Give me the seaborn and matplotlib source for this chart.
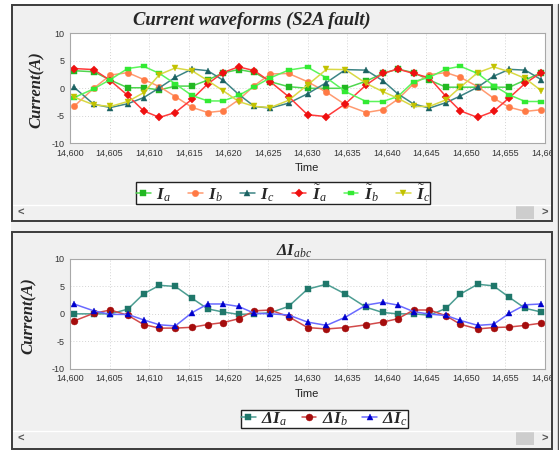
import matplotlib
matplotlib.use("Agg")
import matplotlib.pyplot as plt
from matplotlib.patches import Rectangle
from matplotlib.lines import Line2D
from matplotlib.transforms import Bbox, TransformedBbox
import seaborn as sns

# ---------------- data ----------------
time = [14600.5, 14603.0, 14605.1, 14607.3, 14609.3, 14611.3, 14613.3, 14615.4,
        14617.4, 14619.3, 14621.3, 14623.3, 14625.3, 14627.6, 14630.0, 14632.4,
        14634.8, 14637.4, 14639.5, 14641.4, 14643.4, 14645.4, 14647.5, 14649.3,
        14651.5, 14653.5, 14655.5, 14657.5, 14659.5]

Ia = [3.2, 3.0, 1.5, 0.1, 0.1, -0.3, 0.4, 0.4, 1.5, 2.8, 3.4, 2.9, 1.2, 0.3, 0.0,
      0.0, 0.0, 1.3, 2.7, 3.5, 2.85, 1.5, 0.2, 0.2, 0.2, 0.2, 0.2, 1.5, 2.85]
Ib = [-3.3, 0.0, 2.4, 2.85, 1.6, 0.3, -1.5, -3.45, -4.4, -4.1, -2.1, 0.5, 2.6, 2.7,
      1.2, -0.7, -3.0, -4.4, -3.9, -2.0, 0.8, 2.5, 2.85, 2.0, 0.3, -1.8, -3.45, -4.2, -3.9]
Ic = [0.2, -2.9, -3.5, -2.8, -1.7, 0.1, 2.0, 3.5, 3.2, 1.5, -1.1, -3.3, -3.6, -2.7,
      -1.0, 1.05, 3.4, 3.3, 1.4, -1.0, -2.85, -3.6, -2.6, -1.4, 0.2, 2.2, 3.45, 3.3, 1.6]
Ia_est = [3.6, 3.4, 1.4, -1.3, -4.1, -5.3, -4.4, -2.0, 0.8, 2.85, 3.9, 3.2, 1.2, -1.5,
          -4.8, -5.15, -2.8, 0.6, 2.7, 3.5, 2.7, 1.9, -1.5, -4.1, -5.3, -4.2, -1.7, 0.9, 2.85]
Ib_est = [-1.7, -0.1, 1.6, 3.6, 4.0, 2.7, 0.8, -1.3, -2.3, -2.3, -1.3, 0.3, 1.9, 3.3,
          3.85, 1.9, -0.6, -2.4, -2.4, -1.5, 1.2, 2.0, 3.5, 4.0, 2.7, 0.5, -1.2, -2.4, -2.4]
Ic_est = [-1.6, -3.0, -3.3, -2.4, -0.8, 2.5, 3.7, 3.2, 1.4, -0.4, -2.4, -3.3, -3.5, -2.2,
          0.6, 3.45, 3.4, 0.9, -0.6, -1.8, -3.3, -3.3, -2.1, 0.2, 2.85, 3.9, 3.0, 1.8, -0.4]

dIa = [0.0, 0.0, 0.0, 0.85, 3.65, 5.2, 5.0, 2.85, 0.9, 0.35, -0.1, 0.0, 0.2, 1.35,
       4.5, 5.4, 3.6, 1.2, 0.25, 0.0, 0.0, -0.25, 1.0, 3.6, 5.4, 5.1, 3.0, 1.0, 0.35]
dIb = [-1.3, 0.1, 0.7, -0.25, -1.95, -2.6, -2.6, -2.45, -1.95, -1.6, -0.9, 0.55, 0.7,
       -0.5, -2.5, -2.75, -2.5, -2.0, -1.5, -0.9, 0.7, 0.7, -0.35, -1.9, -2.75, -2.5, -2.4, -2.1, -1.7]
dIc = [1.8, 0.55, -0.1, -0.1, -1.1, -2.0, -2.2, 0.2, 1.8, 1.8, 1.35, 0.1, 0.0, -0.2,
       -1.5, -2.1, -0.6, 1.6, 2.1, 1.6, 0.4, -0.05, -0.3, -1.2, -2.1, -1.9, 0.1, 1.65, 1.8]

x_ticks = [14600, 14605, 14610, 14615, 14620, 14625, 14630, 14635, 14640, 14645, 14650, 14655, 14660]
x_tick_labels = ["14,600", "14,605", "14,610", "14,615", "14,620", "14,625", "14,630",
                 "14,635", "14,640", "14,645", "14,650", "14,655", "14,660"]
y_ticks = [-10, -5, 0, 5, 10]
y_tick_labels = ["-10", "-5", "0", "5", "10"]

top_title = "Current waveforms (S2A fault)"
bottom_title = r"$\mathbf{\Delta I}_{abc}$"
y_label = "Current(A)"
x_label = "Time"
top_labels = [r"$\mathbf{I}_a$", r"$\mathbf{I}_b$", r"$\mathbf{I}_c$",
              r"$\tilde{\mathbf{I}}_a$", r"$\tilde{\mathbf{I}}_b$", r"$\tilde{\mathbf{I}}_c$"]
bottom_labels = [r"$\mathbf{\Delta I}_a$", r"$\mathbf{\Delta I}_b$", r"$\mathbf{\Delta I}_c$"]

# ---------------- style ----------------
sns.set_style("white")
plt.rcParams["font.family"] = ["Liberation Sans", "DejaVu Sans"]
plt.rcParams["axes.unicode_minus"] = False
plt.rcParams["mathtext.fontset"] = "custom"
plt.rcParams["mathtext.rm"] = "Liberation Serif"
plt.rcParams["mathtext.it"] = "Liberation Serif:italic"
plt.rcParams["mathtext.bf"] = "Liberation Serif:italic:bold"

W, H = 559, 450
fig = plt.figure(figsize=(W / 100, H / 100), dpi=100, facecolor="white")


def fx(px):
    return px / W


def fy(py):
    return 1 - py / H


# background + panel frames
fig.patches.append(Rectangle((fx(11), 0), fx(547), fy(4), transform=fig.transFigure,
                             facecolor="#f0f0f0", edgecolor="none", zorder=-10))
fig.lines.append(Line2D([fx(557.5), fx(557.5)], [0, fy(4)], transform=fig.transFigure,
                        color="#505050", lw=1.0))
for top, bot in [(5, 221), (232, 448.5)]:
    fig.patches.append(Rectangle((fx(12), fy(bot)), fx(540), (bot - top) / H,
                                 transform=fig.transFigure, facecolor="none",
                                 edgecolor="#3c3c3c", lw=1.4, zorder=5))

# scroll rows
for div, mid in [(205, 212.5), (431, 438.5)]:
    fig.lines.append(Line2D([fx(13), fx(551)], [fy(div), fy(div)], transform=fig.transFigure,
                            color="white", lw=1.0))
    fig.patches.append(Rectangle((fx(516), fy(mid + 6.5)), fx(18), 13 / H,
                                 transform=fig.transFigure, facecolor="#cdcdcd",
                                 edgecolor="none"))
    fig.text(fx(21), fy(mid), "<", ha="center", va="center", fontsize=8,
             color="#555555", fontweight="bold")
    fig.text(fx(545), fy(mid), ">", ha="center", va="center", fontsize=8,
             color="#555555", fontweight="bold")

ax1 = fig.add_axes([fx(70), fy(143.3), fx(475), 110 / H])
ax2 = fig.add_axes([fx(70), fy(368.7), fx(475), 109.7 / H])

rect_marker = [(-1, -0.55), (1, -0.55), (1, 0.55), (-1, 0.55), (-1, -0.55)]

top_series = [
    (Ia, "#4fd64f", "#22b822", "s", 4.3),
    (Ib, "#ff9a70", "#ff7a45", "o", 4.6),
    (Ic, "#3d8585", "#1b6262", "^", 4.8),
    (Ia_est, "#ff3b3b", "#ee1010", "D", 3.6),
    (Ib_est, "#5cf55c", "#33ea33", rect_marker, 5.0),
    (Ic_est, "#d9d945", "#c2c200", "v", 4.8),
]
bottom_series = [
    (dIa, "#4c9d92", "#1f776a", "s", 5.0),
    (dIb, "#d24a4a", "#a50d0d", "o", 5.0),
    (dIc, "#6a6aff", "#0000cc", "^", 5.0),
]

panel_clip = TransformedBbox(Bbox([[fx(13), 0], [fx(550.5), 1]]), fig.transFigure)

for ax, series, labels in [(ax1, top_series, top_labels), (ax2, bottom_series, bottom_labels)]:
    ax.set_facecolor("white")
    for (vals, lc, mc, mk, ms), lab in zip(series, labels):
        sns.lineplot(x=time, y=vals, ax=ax, color=lc, marker=mk, markersize=ms,
                     markerfacecolor=mc, markeredgecolor=mc, markeredgewidth=0.3,
                     linewidth=1.1, label=lab, sort=False)
    leg = ax.get_legend()
    if leg is not None:
        leg.remove()
    ax.set_xlim(14600, 14660)
    ax.set_ylim(-10, 10)
    ax.set_xticks(x_ticks)
    ax.set_xticklabels(x_tick_labels)
    ax.set_yticks(y_ticks)
    ax.set_yticklabels(y_tick_labels)
    ax.set_xlabel("")
    ax.set_ylabel("")
    ax.grid(True, color="#d4d4d4", linestyle=(0, (1, 2)), linewidth=0.7)
    for s in ax.spines.values():
        s.set_color("#a8a8a8")
        s.set_linewidth(0.8)
    ax.tick_params(axis="both", direction="out", length=2.5, width=0.6, color="#999999",
                   labelsize=6.5, labelcolor="#333333", pad=1.5)
    for lbl in ax.get_xticklabels():
        lbl.set_clip_box(panel_clip)
        lbl.set_clip_on(True)

# titles and labels
serif_bi = dict(family="Liberation Serif", fontweight="bold", fontstyle="italic")
fig.text(fx(252), fy(20), top_title, ha="center", va="center", fontsize=13.4, **serif_bi)
fig.text(fx(294), fy(251), bottom_title, ha="center", va="center", fontsize=12)
fig.text(fx(37), fy(90), y_label, ha="center", va="center", rotation=90, fontsize=12, **serif_bi)
fig.text(fx(29), fy(316), y_label, ha="center", va="center", rotation=90, fontsize=12, **serif_bi)
fig.text(fx(307), fy(168), x_label, ha="center", va="center", fontsize=8, color="#222222")
fig.text(fx(307), fy(394), x_label, ha="center", va="center", fontsize=8, color="#222222")

# legends
h1, l1 = ax1.get_legend_handles_labels()
lg1 = fig.legend(h1, l1, loc="center", bbox_to_anchor=(fx(283), fy(193)), ncol=6,
                 fontsize=12.5, frameon=True, fancybox=False, shadow=False,
                 handlelength=0.85, handletextpad=0.3, columnspacing=1.0,
                 borderpad=0.02, borderaxespad=0)
lg1.get_frame().set_edgecolor("#222222")
lg1.get_frame().set_linewidth(1.0)
lg1.get_frame().set_facecolor("white")
lg1.get_frame().set_alpha(1)

h2, l2 = ax2.get_legend_handles_labels()
lg2 = fig.legend(h2, l2, loc="center", bbox_to_anchor=(fx(324.5), fy(419)), ncol=3,
                 fontsize=12.5, frameon=True, fancybox=False, shadow=False,
                 handlelength=0.85, handletextpad=0.3, columnspacing=0.85,
                 borderpad=0.02, borderaxespad=0)
lg2.get_frame().set_edgecolor("#222222")
lg2.get_frame().set_linewidth(1.0)
lg2.get_frame().set_facecolor("white")
lg2.get_frame().set_alpha(1)

fig.savefig("out.png", dpi=100, facecolor=fig.get_facecolor())
